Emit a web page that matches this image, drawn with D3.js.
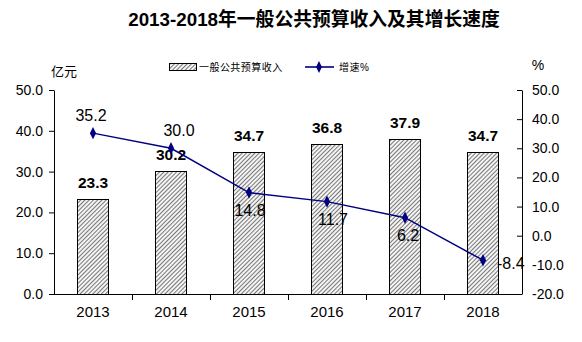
<!DOCTYPE html>
<html><head><meta charset="utf-8">
<script src="https://cdn.jsdelivr.net/npm/d3@7"></script>
<style>
html,body{margin:0;padding:0;background:#fff;}
text{font-family:"Liberation Sans",Arial,"Noto Sans CJK SC",sans-serif;}
.cjk{font-family:"Liberation Sans","Noto Sans CJK SC",sans-serif;}
</style></head>
<body><svg id="c" width="582" height="342"></svg>
<script>
const years = ["2013","2014","2015","2016","2017","2018"];
const revenue = [23.3, 30.2, 34.7, 36.8, 37.9, 34.7];
const growth = [35.2, 30.0, 14.8, 11.7, 6.2, -8.4];
const leftTicks = [0, 10, 20, 30, 40, 50];
const rightTicks = [-20, -10, 0, 10, 20, 30, 40, 50];
const title = "2013-2018年一般公共预算收入及其增长速度";
const seriesNames = ["一般公共预算收入", "增速%"];
const leftUnit = "亿元", rightUnit = "%";

const svg = d3.select("#c");
const L = 54, R = 522, T = 90, B = 294;

const x = d3.scaleBand().domain(years).range([L, R]).paddingInner(0.6).paddingOuter(0.3);
const xc = d3.scaleBand().domain(years).range([L, R]);
const yL = d3.scaleLinear().domain([0, 50]).range([B, T]);
const yR = d3.scaleLinear().domain([-20, 50]).range([B, T]);

const defs = svg.append("defs");
const pat = defs.append("pattern").attr("id","hatch").attr("patternUnits","userSpaceOnUse")
  .attr("width",3).attr("height",3).attr("patternTransform","rotate(45)");
pat.append("rect").attr("width",3).attr("height",3).attr("fill","#f4f4f4");
pat.append("line").attr("x1",0).attr("y1",0).attr("x2",0).attr("y2",3)
  .attr("stroke","#6a6a6a").attr("stroke-width",1.8);

// title
svg.append("text").attr("class","cjk").attr("x",314).attr("y",26).attr("text-anchor","middle")
  .attr("font-size",18.8).attr("font-weight","bold").attr("fill","#000").text(title);

// units
svg.append("text").attr("class","cjk").attr("x",64).attr("y",76).attr("text-anchor","middle")
  .attr("font-size",13).attr("fill","#000").text(leftUnit);
svg.append("text").attr("x",538).attr("y",70).attr("text-anchor","middle")
  .attr("font-size",14).attr("fill","#000").text(rightUnit);

// legend
svg.append("rect").attr("x",169.5).attr("y",63.5).attr("width",27).attr("height",7)
  .attr("fill","url(#hatch)").attr("stroke","#000").attr("stroke-width",1);
svg.append("text").attr("class","cjk").attr("x",199).attr("y",71).attr("font-size",10)
  .attr("letter-spacing",0.45).attr("fill","#000").text(seriesNames[0]);
svg.append("line").attr("x1",305).attr("x2",334).attr("y1",67).attr("y2",67)
  .attr("stroke","#000080").attr("stroke-width",1.6);
svg.append("path").attr("d",d3.symbol(d3.symbolDiamond,30)()).attr("transform","translate(319,67) scale(1,1.2)").attr("fill","#000080");
svg.append("text").attr("class","cjk").attr("x",339).attr("y",71).attr("font-size",10)
  .attr("letter-spacing",0.45).attr("fill","#000").text(seriesNames[1]);

// bars
svg.append("g").selectAll("rect").data(years).join("rect")
  .attr("x", d => Math.round(x(d)) + 0.5)
  .attr("y", (d,i) => Math.round(yL(revenue[i])) + 0.5)
  .attr("width", Math.round(x.bandwidth()))
  .attr("height", (d,i) => Math.round(B - yL(revenue[i])))
  .attr("fill","url(#hatch)").attr("stroke","#000").attr("stroke-width",1);

// axes
const gl = svg.append("g").attr("transform",`translate(${L},0)`)
  .call(d3.axisLeft(yL).tickValues(leftTicks).tickFormat(d3.format(".1f")).tickSizeInner(5).tickSizeOuter(0).tickPadding(6));
const gr = svg.append("g").attr("transform",`translate(${R},0)`)
  .call(d3.axisRight(yR).tickValues(rightTicks).tickFormat(d3.format(".1f")).tickSizeInner(-5).tickSizeOuter(0).tickPadding(10));
[gl, gr].forEach(g => {
  g.selectAll("text").attr("font-size",14).attr("fill","#000").attr("font-family","Liberation Sans, Arial");
  g.selectAll("line,path").attr("stroke","#000");
});
gr.selectAll("text").text(d => d3.format(".1f")(d).replace("−","-"));

const gb = svg.append("g");
gb.append("line").attr("x1",L).attr("x2",R).attr("y1",B+0.5).attr("y2",B+0.5).attr("stroke","#000");
gb.selectAll("line.t").data(years.slice(1)).join("line").attr("class","t")
  .attr("x1", d => Math.round(xc(d))+0.5).attr("x2", d => Math.round(xc(d))+0.5)
  .attr("y1",B).attr("y2",B+6).attr("stroke","#000");
gb.selectAll("text").data(years).join("text")
  .attr("x", d => xc(d) + xc.bandwidth()/2).attr("y",317).attr("text-anchor","middle")
  .attr("font-size",15).attr("fill","#000").text(d => d);

// bar labels
svg.append("g").selectAll("text").data(years).join("text")
  .attr("x", d => x(d) + x.bandwidth()/2)
  .attr("y", (d,i) => yL(revenue[i]) - 11)
  .attr("text-anchor","middle").attr("font-size",15.5).attr("font-weight","bold").attr("fill","#000")
  .text((d,i) => revenue[i].toFixed(1));

// line
const cx = d => xc(d) + xc.bandwidth()/2;
svg.append("path").datum(years)
  .attr("d", d3.line().x(d => cx(d)).y((d,i) => yR(growth[i])))
  .attr("fill","none").attr("stroke","#000080").attr("stroke-width",1.5);
svg.append("g").selectAll("path").data(years).join("path")
  .attr("d", d3.symbol(d3.symbolDiamond, 34)())
  .attr("transform", (d,i) => `translate(${cx(d)},${yR(growth[i])}) scale(1,1.15)`)
  .attr("fill","#000080");

// line labels
const place = ["above","above","below","below","below","right"];
const offs = {above:[0,-12,"middle"], below:[1,23,"middle"], right:[14,9,"start"]};
const extraDx = [-2, 8, 0, 5, 2, 0];
svg.append("g").selectAll("text").data(years).join("text")
  .attr("x", (d,i) => cx(d) + offs[place[i]][0] + extraDx[i])
  .attr("y", (d,i) => yR(growth[i]) + offs[place[i]][1])
  .attr("text-anchor", (d,i) => offs[place[i]][2])
  .attr("font-size",16).attr("fill","#000")
  .text((d,i) => growth[i].toFixed(1));
</script></body></html>
